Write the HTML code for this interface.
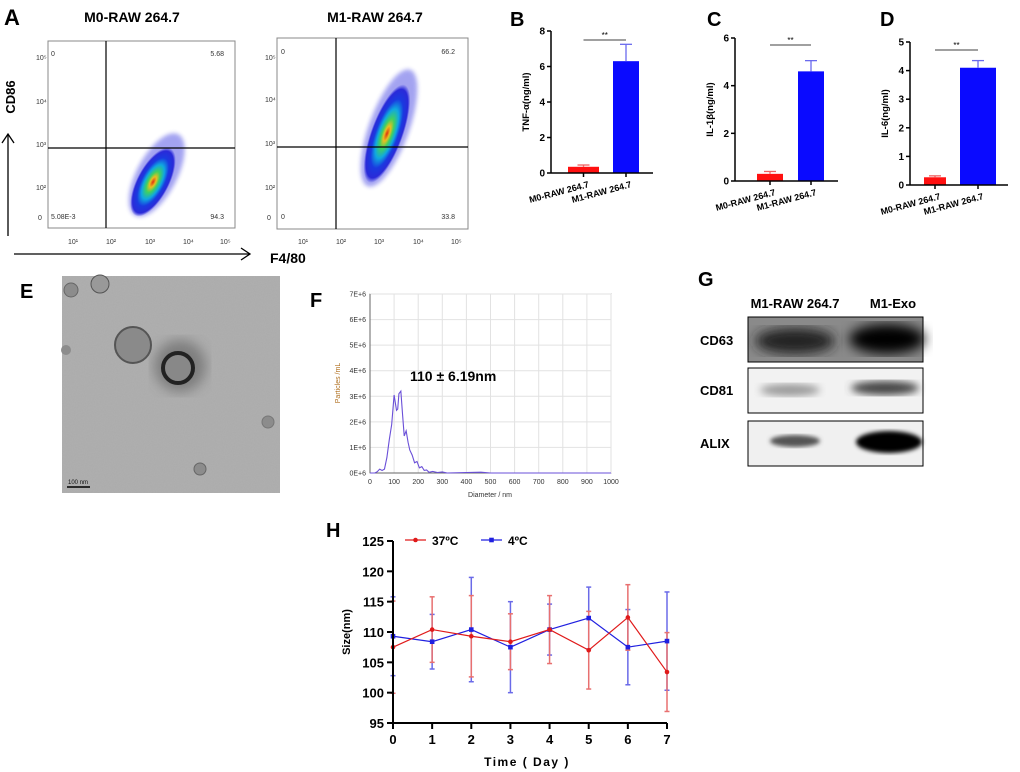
<!DOCTYPE html>
<html><head><meta charset="utf-8"><style>
html,body{margin:0;padding:0;background:#fff;}
svg{display:block;font-family:"Liberation Sans",Arial,sans-serif;}
</style></head><body>
<svg id="fig" width="1020" height="772" viewBox="0 0 1020 772" xmlns="http://www.w3.org/2000/svg">
<defs>
<filter id="noise" x="0" y="0" width="100%" height="100%"><feTurbulence type="fractalNoise" baseFrequency="0.9" numOctaves="2" seed="3"/><feColorMatrix type="matrix" values="0 0 0 0 0.45  0 0 0 0 0.45  0 0 0 0 0.45  0 0 0 0.55 0"/></filter>
<filter id="blur1"><feGaussianBlur stdDeviation="1.2"/></filter>
<filter id="blur2"><feGaussianBlur stdDeviation="2"/></filter>
<filter id="blur4"><feGaussianBlur stdDeviation="4"/></filter>
<filter id="blur6"><feGaussianBlur stdDeviation="6"/></filter>
<radialGradient id="rg" cx="50%" cy="50%" r="50%"><stop offset="0" stop-color="#e03010"/><stop offset="0.15" stop-color="#e8c020"/><stop offset="0.3" stop-color="#40d060"/><stop offset="0.5" stop-color="#10a8e0"/><stop offset="0.7" stop-color="#1a3ae0"/><stop offset="0.9" stop-color="#2a2ad8"/><stop offset="1" stop-color="#3030e0" stop-opacity="0"/></radialGradient>
</defs>

<!-- Panel A -->
<g font-weight="bold">
<text x="4" y="25" font-size="22">A</text>
<text x="132" y="22" font-size="14" text-anchor="middle">M0-RAW 264.7</text>
<text x="375" y="22" font-size="14" text-anchor="middle">M1-RAW 264.7</text>
</g>
<g font-size="7" fill="#333">
<rect x="48" y="41" width="187" height="187" fill="#fff" stroke="#888"/>
<g transform="translate(153,182) rotate(-62)">
<ellipse cx="8" rx="46" ry="20" fill="#3535e0" opacity="0.45" filter="url(#blur2)"/>
<ellipse rx="38" ry="16" fill="url(#rg)"/>
</g>
<line x1="106" y1="41" x2="106" y2="228" stroke="#000" stroke-width="1.2"/>
<line x1="48" y1="148" x2="235" y2="148" stroke="#000" stroke-width="1.2"/>
<text x="51" y="56" font-size="7">0</text><text x="224" y="56" text-anchor="end">5.68</text>
<text x="51" y="219">5.08E-3</text><text x="224" y="219" text-anchor="end">94.3</text>
<text x="36" y="60">10⁵</text><text x="36" y="104">10⁴</text><text x="36" y="147">10³</text><text x="36" y="190">10²</text><text x="38" y="220">0</text>
<text x="68" y="244">10¹</text><text x="106" y="244">10²</text><text x="145" y="244">10³</text><text x="183" y="244">10⁴</text><text x="220" y="244">10⁵</text>
</g>
<g font-size="7" fill="#333">
<rect x="277" y="38" width="191" height="191" fill="#fff" stroke="#888"/>
<g transform="translate(389,128) rotate(-70)">
<ellipse rx="62" ry="20" fill="#3535e0" opacity="0.45" filter="url(#blur2)"/>
<ellipse cx="-6" rx="52" ry="16" fill="url(#rg)"/>
</g>
<line x1="336" y1="38" x2="336" y2="229" stroke="#000" stroke-width="1.2"/>
<line x1="277" y1="147" x2="468" y2="147" stroke="#000" stroke-width="1.2"/>
<text x="281" y="54">0</text><text x="455" y="54" text-anchor="end">66.2</text>
<text x="281" y="219">0</text><text x="455" y="219" text-anchor="end">33.8</text>
<text x="265" y="60">10⁵</text><text x="265" y="102">10⁴</text><text x="265" y="146">10³</text><text x="265" y="190">10²</text><text x="267" y="220">0</text>
<text x="298" y="244">10¹</text><text x="336" y="244">10²</text><text x="374" y="244">10³</text><text x="413" y="244">10⁴</text><text x="451" y="244">10⁵</text>
</g>
<g>
<line x1="8" y1="236" x2="8" y2="135" stroke="#000" stroke-width="1.3"/><polyline points="2,143 8,134 14,143" fill="none" stroke="#000" stroke-width="1.3"/>
<text x="15" y="97" font-size="13" font-weight="bold" transform="rotate(-90 15 97)" text-anchor="middle">CD86</text>
<line x1="14" y1="254" x2="250" y2="254" stroke="#000" stroke-width="1.3"/><polyline points="241,248 250,254 241,260" fill="none" stroke="#000" stroke-width="1.3"/>
<text x="270" y="263" font-size="14" font-weight="bold">F4/80</text>
</g>

<g id="bars"></g>

<!-- Panel E -->
<g>
<text x="20" y="298" font-size="20" font-weight="bold">E</text>
<rect x="62" y="276" width="218" height="217" fill="#ababab"/>
<rect x="62" y="276" width="218" height="217" filter="url(#noise)"/>
<circle cx="180" cy="366" r="26" fill="#505050" opacity="0.5" filter="url(#blur6)"/>
<circle cx="133" cy="345" r="18" fill="#8a8a8a" stroke="#555" stroke-width="2"/>
<circle cx="178" cy="368" r="15" fill="#888" stroke="#222" stroke-width="4"/>
<circle cx="71" cy="290" r="7" fill="#8c8c8c" stroke="#666"/><circle cx="100" cy="284" r="9" fill="#999" stroke="#555"/>
<circle cx="200" cy="469" r="6" fill="#8c8c8c" stroke="#666"/><circle cx="268" cy="422" r="6" fill="#8c8c8c" stroke="#777"/><circle cx="66" cy="350" r="5" fill="#8c8c8c"/>
<line x1="67" y1="487" x2="90" y2="487" stroke="#000" stroke-width="1.5"/>
<text x="68" y="484" font-size="6" fill="#111">100 nm</text>
</g>

<g id="nta"></g>

<!-- Panel G -->
<g font-weight="bold">
<text x="698" y="286" font-size="20">G</text>
<text x="795" y="308" font-size="13" text-anchor="middle">M1-RAW 264.7</text>
<text x="893" y="308" font-size="13" text-anchor="middle">M1-Exo</text>
<text x="700" y="345" font-size="13">CD63</text>
<text x="700" y="395" font-size="13">CD81</text>
<text x="700" y="448" font-size="13">ALIX</text>
<rect x="748" y="317" width="175" height="45" fill="#8a8a8a" stroke="#000"/>
<ellipse cx="795" cy="341" rx="40" ry="13" fill="#222" filter="url(#blur6)"/>
<ellipse cx="887" cy="339" rx="38" ry="15" fill="#000" filter="url(#blur6)"/>
<rect x="748" y="368" width="175" height="45" fill="#f2f2f2" stroke="#000"/>
<ellipse cx="790" cy="390" rx="30" ry="6" fill="#999" filter="url(#blur4)"/>
<ellipse cx="885" cy="388" rx="34" ry="7" fill="#444" filter="url(#blur4)"/>
<rect x="748" y="421" width="175" height="45" fill="#f0f0f0" stroke="#000"/>
<ellipse cx="795" cy="441" rx="25" ry="6" fill="#555" filter="url(#blur2)"/>
<ellipse cx="889" cy="442" rx="33" ry="11" fill="#000" filter="url(#blur2)"/>
</g>

<g id="lineH"></g>
</svg>
<script>
const NS="http://www.w3.org/2000/svg";
function mk(p,t,a,txt){const e=document.createElementNS(NS,t);for(const k in a)e.setAttribute(k,a[k]);if(txt!==undefined)e.textContent=txt;p.appendChild(e);return e;}

// ---- Bar chart data (B, C, D)
const barCategories=["M0-RAW 264.7","M1-RAW 264.7"];
const tnfValues=[0.35,6.3];
const tnfErrors=[0.1,0.95];
const il1bValues=[0.3,4.6];
const il1bErrors=[0.1,0.45];
const il6Values=[0.27,4.1];
const il6Errors=[0.05,0.25];
const tnfTicks=[0,2,4,6,8];
const il1bTicks=[0,2,4,6];
const il6Ticks=[0,1,2,3,4,5];

const barsG=document.getElementById('bars');
function barPanel(label,lx,ax,y0,y1,ymax,xEnd,bx,bw,vals,errs,ticks,ytitle,sigY){
  const g=mk(barsG,'g',{});
  
  
  const L=mk(g,'text',{x:lx,y:26,'font-size':20,'font-weight':'bold'},label);
  
  
  const ys=v=>y0-(v/ymax)*(y0-y1);
  const cols=['#ff1010','#0a0aff'],ecols=['#f06060','#6a6aee'];
  vals.forEach((v,i)=>{
    const w=bw[i];
    const r=mk(g,'rect',{x:bx[i],y:ys(v),width:w,height:y0-ys(v),fill:cols[i]});
    
    
    const cx=bx[i]+w/2,top=ys(v+errs[i]);
    mk(g,'line',{x1:cx,y1:ys(v),x2:cx,y2:top,stroke:ecols[i],'stroke-width':1.3});
    mk(g,'line',{x1:cx-6,y1:top,x2:cx+6,y2:top,stroke:ecols[i],'stroke-width':1.3});
    mk(g,'line',{x1:cx,y1:y0,x2:cx,y2:y0+4,stroke:'#000','stroke-width':1.5});
    const t=mk(g,'text',{x:cx+6,y:y0+14,'font-size':9,'font-weight':'bold','text-anchor':'end',transform:`rotate(-15 ${cx+6} ${y0+14})`},barCategories[i]);
    
    
  });
  mk(g,'line',{x1:ax,y1:y0,x2:xEnd,y2:y0,stroke:'#000','stroke-width':1.5});
  mk(g,'line',{x1:ax,y1:y0,x2:ax,y2:y1,stroke:'#000','stroke-width':1.5});
  ticks.forEach(t=>{const y=ys(t);mk(g,'line',{x1:ax-4,y1:y,x2:ax,y2:y,stroke:'#000','stroke-width':1.5});
    const tl=mk(g,'text',{x:ax-6,y:y+3.5,'font-size':10,'font-weight':'bold','text-anchor':'end'},t);
    });
  const yt=mk(g,'text',{x:ax-22,y:(y0+y1)/2,'font-size':9.5,'font-weight':'bold','text-anchor':'middle',transform:`rotate(-90 ${ax-22} ${(y0+y1)/2})`},ytitle);
  
  const c0=bx[0]+bw[0]/2,c1=bx[1]+bw[1]/2;
  mk(g,'line',{x1:c0,y1:sigY,x2:c1,y2:sigY,stroke:'#000','stroke-width':0.8});
  mk(g,'text',{x:(c0+c1)/2,y:sigY-2,'font-size':8,'text-anchor':'middle'},'**');
}
barPanel('B',510,551,173,31,8,653,[568,613],[31,26],tnfValues,tnfErrors,tnfTicks,'TNF-α(ng/ml)',40);
barPanel('C',707,735,181,38,6,838,[757,798],[26,26],il1bValues,il1bErrors,il1bTicks,'IL-1β(ng/ml)',45);
barPanel('D',880,910,185,42,5,1008,[924,960],[22,36],il6Values,il6Errors,il6Ticks,'IL-6(ng/ml)',50);

// ---- Panel F NTA
const ntaDiameter=[0,20,30,40,50,60,70,80,90,100,110,115,120,128,135,142,150,158,165,175,185,195,205,215,225,235,245,260,280,300,320,400,460,500,1000];
const ntaParticles=[0,0,0.05,0.15,0.1,0.15,0.6,1.3,1.9,3.05,2.45,2.5,3.1,3.2,2.3,1.45,1.65,1.2,0.9,0.7,0.4,0.45,0.2,0.25,0.1,0.12,0.03,0.06,0.02,0.04,0,0.02,0.03,0,0];
const ntaXTicks=[0,100,200,300,400,500,600,700,800,900,1000];
const ntaYTicks=[0,1,2,3,4,5,6,7];
(function(){
  const g=document.getElementById('nta');
  const L=mk(g,'text',{x:310,y:307,'font-size':20,'font-weight':'bold'},'F');
  
  const x0=370,x1=611,yb=473,yt=294;
  const xs=v=>x0+v/1000*(x1-x0),ys=v=>yb-v/7*(yb-yt);
  mk(g,'rect',{x:x0,y:yt,width:x1-x0,height:yb-yt,fill:'#fff',stroke:'#999'});
  ntaXTicks.forEach(t=>{mk(g,'line',{x1:xs(t),y1:yt,x2:xs(t),y2:yb,stroke:'#e2e2e2'});
    const tl=mk(g,'text',{x:xs(t),y:yb+11,'font-size':7,'text-anchor':'middle',fill:'#333'},t);
    });
  ntaYTicks.forEach(t=>{mk(g,'line',{x1:x0,y1:ys(t),x2:x1,y2:ys(t),stroke:'#e2e2e2'});
    const tl=mk(g,'text',{x:x0-4,y:ys(t)+2.5,'font-size':7,'text-anchor':'end',fill:'#333'},t+'E+6');
    });
  mk(g,'line',{x1:x0,y1:yt,x2:x0,y2:yb,stroke:'#666'});mk(g,'line',{x1:x0,y1:yb,x2:x1,y2:yb,stroke:'#666'});
  const p=mk(g,'polyline',{points:ntaDiameter.map((d,i)=>xs(d)+','+ys(ntaParticles[i])).join(' '),fill:'none',stroke:'#6a4fd8','stroke-width':1.1});
  
  const a=mk(g,'text',{x:410,y:381,'font-size':14,'font-weight':'bold'},'110 ± 6.19nm');
  
  const xt=mk(g,'text',{x:490,y:497,'font-size':7,'text-anchor':'middle',fill:'#333'},'Diameter / nm');
  
  const ytl=mk(g,'text',{x:340,y:383,'font-size':7,'text-anchor':'middle',fill:'#b07020',transform:'rotate(-90 340 383)'},'Particles /mL');
  
})();

// ---- Panel H
const days=[0,1,2,3,4,5,6,7];
const size37=[107.5,110.4,109.3,108.4,110.4,107.0,112.4,103.4];
const err37=[7.6,5.4,6.7,4.6,5.6,6.4,5.4,6.5];
const size4=[109.3,108.4,110.4,107.5,110.4,112.3,107.5,108.5];
const err4=[6.5,4.5,8.6,7.5,4.2,5.1,6.2,8.1];
const hYTicks=[95,100,105,110,115,120,125];
(function(){
  const g=document.getElementById('lineH');
  const L=mk(g,'text',{x:326,y:537,'font-size':20,'font-weight':'bold'},'H');
  
  const x0=393,x1=667,yb=723,yt=541;
  const xs=d=>x0+d/7*(x1-x0),ys=v=>yb-(v-95)/30*(yb-yt);
  const ser=[[size4,err4,'#2020e0','#6a6ae8','4°C'],[size37,err37,'#e01a1a','#e87070','37°C']];
  ser.forEach(([v,e,c,ec,nm])=>{
    v.forEach((y,i)=>{const x=xs(days[i]);
      mk(g,'line',{x1:x,y1:ys(y-e[i]),x2:x,y2:ys(y+e[i]),stroke:ec,'stroke-width':1.5});
      mk(g,'line',{x1:x-2.5,y1:ys(y-e[i]),x2:x+2.5,y2:ys(y-e[i]),stroke:ec,'stroke-width':1.5});
      mk(g,'line',{x1:x-2.5,y1:ys(y+e[i]),x2:x+2.5,y2:ys(y+e[i]),stroke:ec,'stroke-width':1.5});});
  });
  ser.forEach(([v,e,c,ec,nm],si)=>{
    const p=mk(g,'polyline',{points:v.map((y,i)=>xs(days[i])+','+ys(y)).join(' '),fill:'none',stroke:c,'stroke-width':1.2});
    
    v.forEach((y,i)=>{const m=si?mk(g,'circle',{cx:xs(days[i]),cy:ys(y),r:2.3,fill:c}):mk(g,'rect',{x:xs(days[i])-2.3,y:ys(y)-2.3,width:4.6,height:4.6,fill:c});
      });
  });
  mk(g,'line',{x1:x0,y1:yt,x2:x0,y2:yb,stroke:'#000','stroke-width':2});
  mk(g,'line',{x1:x0,y1:yb,x2:x1,y2:yb,stroke:'#000','stroke-width':2});
  hYTicks.forEach(t=>{mk(g,'line',{x1:x0-6,y1:ys(t),x2:x0,y2:ys(t),stroke:'#000','stroke-width':2});
    const tl=mk(g,'text',{x:x0-9,y:ys(t)+5,'font-size':13,'font-weight':'bold','text-anchor':'end'},t);
    });
  days.forEach(d=>{mk(g,'line',{x1:xs(d),y1:yb,x2:xs(d),y2:yb+6,stroke:'#000','stroke-width':2});
    const tl=mk(g,'text',{x:xs(d),y:yb+21,'font-size':13,'font-weight':'bold','text-anchor':'middle'},d);
    });
  const yl=mk(g,'text',{x:350,y:632,'font-size':11,'font-weight':'bold','text-anchor':'middle',transform:'rotate(-90 350 632)'},'Size(nm)');
  
  const xl=mk(g,'text',{x:527,y:766,'font-size':12,'font-weight':'bold','text-anchor':'middle','letter-spacing':'1.5'},'Time ( Day )');
  
  const lg=mk(g,'g',{});
  
  mk(lg,'line',{x1:405,y1:540,x2:426,y2:540,stroke:'#e01a1a','stroke-width':1.3});
  mk(lg,'circle',{cx:415.5,cy:540,r:2.3,fill:'#e01a1a'});
  mk(lg,'text',{x:432,y:545,'font-size':12,'font-weight':'bold'},'37ºC');
  mk(lg,'line',{x1:481,y1:540,x2:502,y2:540,stroke:'#2020e0','stroke-width':1.3});
  mk(lg,'rect',{x:489.2,y:537.7,width:4.6,height:4.6,fill:'#2020e0'});
  mk(lg,'text',{x:508,y:545,'font-size':12,'font-weight':'bold'},'4ºC');
})();
</script>
</body></html>
